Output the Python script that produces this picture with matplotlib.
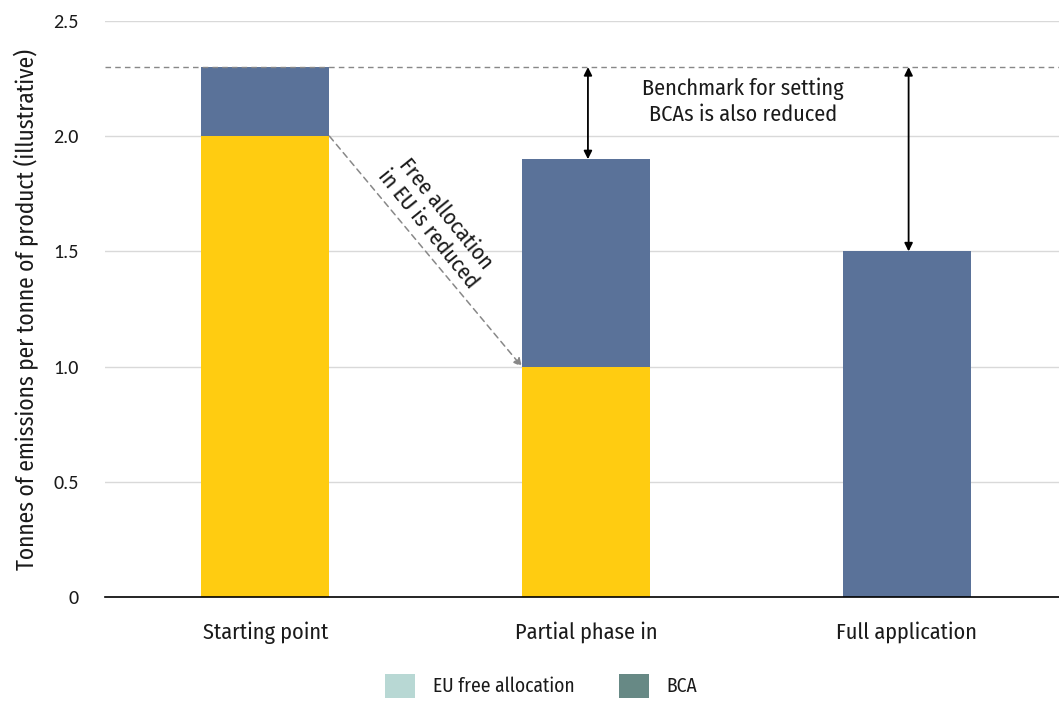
import matplotlib
matplotlib.use("Agg")
import matplotlib.pyplot as plt
from matplotlib.patches import Patch

# Data
categories = ["Starting point", "Partial phase in", "Full application"]
free_allocation = [2.0, 1.0, 0.0]
bca = [0.3, 0.9, 1.5]
benchmark = 2.3
yticks = [0, 0.5, 1.0, 1.5, 2.0, 2.5]
ytick_labels = ["0", "0.5", "1.0", "1.5", "2.0", "2.5"]

YELLOW = "#FFCC11"
BLUE = "#5A7299"
LEG_LIGHT = "#B8D8D4"
LEG_DARK = "#678985"

plt.rcParams["font.family"] = ["Fira Sans Condensed", "DejaVu Sans"]
TEXT = "#1a1a1a"

fig = plt.figure(figsize=(10.59, 7.01), dpi=100)
ax = fig.add_axes([105 / 1059, 1 - 597 / 701, 1 - 105 / 1059, (597 - 21) / 701])

x = list(range(len(categories)))
width = 0.4
ax.bar(x, free_allocation, width, color=YELLOW, zorder=3)
tops = [f + b for f, b in zip(free_allocation, bca)]
ax.bar(x, bca, width, bottom=free_allocation, color=BLUE, zorder=3)

ax.set_xlim(-0.5, 2.475)
ax.set_ylim(0, 2.5)
ax.set_yticks(yticks)
ax.set_yticklabels(ytick_labels, fontsize=14.5, family=["Carlito", "DejaVu Sans"], color=TEXT)
ax.set_xticks(x)
ax.set_xticklabels(categories, fontsize=16, color=TEXT)
ax.tick_params(length=0)
ax.tick_params(axis="x", pad=17.5)
ax.tick_params(axis="y", pad=19)
ax.grid(axis="y", color="#d9d9d9", linewidth=1, zorder=0)
for s in ["top", "right", "left"]:
    ax.spines[s].set_visible(False)
ax.spines["bottom"].set_color("black")
ax.spines["bottom"].set_linewidth(1.2)
ax.spines["bottom"].set_zorder(4)

ax.set_ylabel("Tonnes of emissions per tonne of product (illustrative)", fontsize=16.8,
              labelpad=10, color=TEXT)

# Benchmark line
ax.axhline(benchmark, color="#888888", linestyle=(0, (4, 3)), linewidth=1, zorder=4)

# Benchmark reduction arrows
for xi in (1, 2):
    ax.annotate("", xy=(xi + 0.006, tops[xi]), xytext=(xi + 0.006, benchmark),
                arrowprops=dict(arrowstyle="<|-|>", color="black", lw=1.3,
                                mutation_scale=12, shrinkA=0, shrinkB=0), zorder=5)
ax.text(1.49, 2.15, "Benchmark for setting\nBCAs is also reduced",
        ha="center", va="center", fontsize=16, linespacing=1.25, color=TEXT)

# Free allocation reduction arrow
ax.annotate("", xy=(1 - width / 2, free_allocation[1]), xytext=(width / 2, free_allocation[0]),
            arrowprops=dict(arrowstyle="-|>", color="#888888", lw=1.1, linestyle=(0, (4, 3)),
                            mutation_scale=12, shrinkA=0, shrinkB=0), zorder=5)
ax.text(0.535, 1.63, "Free allocation\nin EU is reduced", ha="center", va="center",
        rotation=-51, fontsize=16, linespacing=1.1, rotation_mode="anchor", color=TEXT)

# Legend
handles = [Patch(facecolor=LEG_LIGHT, label="EU free allocation"),
           Patch(facecolor=LEG_DARK, label="BCA")]
fig.legend(handles=handles, loc="lower center", bbox_to_anchor=(0.511, -0.021), ncol=2,
           frameon=False, fontsize=14, handlelength=1.55, handleheight=1.55,
           columnspacing=2.26, handletextpad=0.93, labelcolor=TEXT)

fig.savefig("out.png", dpi=100)
